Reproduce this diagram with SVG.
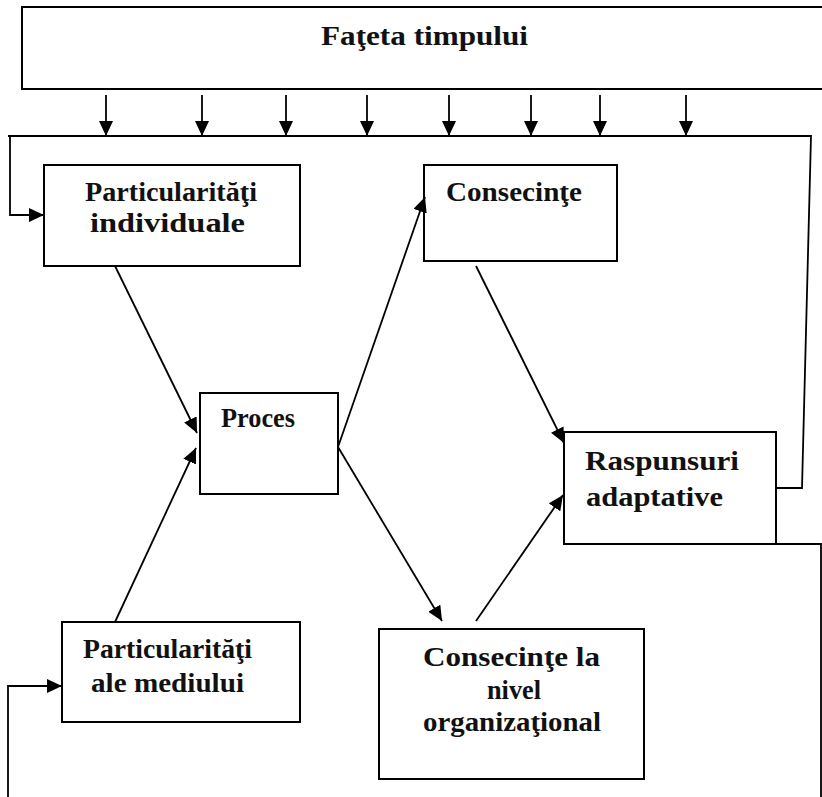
<svg xmlns="http://www.w3.org/2000/svg" width="822" height="797" viewBox="0 0 822 797">
<style>
.box{fill:#fff;stroke:#000;stroke-width:2}
.ln{fill:none;stroke:#000;stroke-width:1.8}
.t{font-family:"Liberation Serif","Times New Roman",serif;font-weight:bold;font-size:27px;fill:#111}
</style>
<defs>
<marker id="ah" markerUnits="userSpaceOnUse" markerWidth="16" markerHeight="14" refX="15" refY="7" orient="auto">
<path d="M0,0 L15,7 L0,14 z" fill="#000"/>
</marker>
</defs>
<rect width="822" height="797" fill="#fff"/>
<g id="fateta">
<rect class="box" x="22" y="7" width="820" height="82"/>
<text class="t" x="321" y="45" textLength="207" lengthAdjust="spacingAndGlyphs">Faţeta timpului</text>
</g>
<g id="part-individuale">
<rect class="box" x="44" y="165" width="256" height="101"/>
<text class="t" x="85" y="201" textLength="172" lengthAdjust="spacingAndGlyphs">Particularităţi</text>
<text class="t" x="90" y="232" textLength="155" lengthAdjust="spacingAndGlyphs">individuale</text>
</g>
<g id="consecinte">
<rect class="box" x="424" y="165" width="193" height="96"/>
<text class="t" x="446" y="201" textLength="136" lengthAdjust="spacingAndGlyphs">Consecinţe</text>
</g>
<g id="proces">
<rect class="box" x="200" y="393" width="138" height="101"/>
<text class="t" x="221" y="427" textLength="74" lengthAdjust="spacingAndGlyphs">Proces</text>
</g>
<g id="raspunsuri">
<rect class="box" x="564" y="432" width="212" height="112"/>
<text class="t" x="585" y="470" textLength="154" lengthAdjust="spacingAndGlyphs">Raspunsuri</text>
<text class="t" x="586" y="506" textLength="137" lengthAdjust="spacingAndGlyphs">adaptative</text>
</g>
<g id="part-mediului">
<rect class="box" x="62" y="622" width="238" height="100"/>
<text class="t" x="83" y="658" textLength="169" lengthAdjust="spacingAndGlyphs">Particularităţi</text>
<text class="t" x="91" y="692" textLength="153" lengthAdjust="spacingAndGlyphs">ale mediului</text>
</g>
<g id="consecinte-org">
<rect class="box" x="379" y="629" width="265" height="150"/>
<text class="t" x="423" y="666" textLength="177" lengthAdjust="spacingAndGlyphs">Consecinţe la</text>
<text class="t" x="487" y="699" textLength="54" lengthAdjust="spacingAndGlyphs">nivel</text>
<text class="t" x="423" y="731" textLength="178" lengthAdjust="spacingAndGlyphs">organizaţional</text>
</g>
<g id="connectors">
<line class="ln" x1="106" y1="95" x2="106" y2="136" marker-end="url(#ah)"/>
<line class="ln" x1="202" y1="95" x2="202" y2="136" marker-end="url(#ah)"/>
<line class="ln" x1="286" y1="95" x2="286" y2="136" marker-end="url(#ah)"/>
<line class="ln" x1="367" y1="95" x2="367" y2="136" marker-end="url(#ah)"/>
<line class="ln" x1="449" y1="95" x2="449" y2="136" marker-end="url(#ah)"/>
<line class="ln" x1="531" y1="95" x2="531" y2="136" marker-end="url(#ah)"/>
<line class="ln" x1="600" y1="95" x2="600" y2="136" marker-end="url(#ah)"/>
<line class="ln" x1="686" y1="95" x2="686" y2="136" marker-end="url(#ah)"/>
<polyline class="ln" points="776,488 802,488 811,136 8,136"/>
<polyline class="ln" points="10,136 10,215 44,215" marker-end="url(#ah)"/>
<polyline class="ln" points="8,797 8,686 62,686" marker-end="url(#ah)"/>
<polyline class="ln" points="750,544 821,544 821,797"/>
<line class="ln" x1="115" y1="266" x2="197" y2="433" marker-end="url(#ah)"/>
<line class="ln" x1="115" y1="622" x2="196" y2="448" marker-end="url(#ah)"/>
<line class="ln" x1="338" y1="447" x2="425" y2="197" marker-end="url(#ah)"/>
<line class="ln" x1="338" y1="447" x2="442" y2="621" marker-end="url(#ah)"/>
<line class="ln" x1="476" y1="266" x2="564" y2="443" marker-end="url(#ah)"/>
<line class="ln" x1="476" y1="621" x2="563" y2="495" marker-end="url(#ah)"/>
</g>
</svg>
